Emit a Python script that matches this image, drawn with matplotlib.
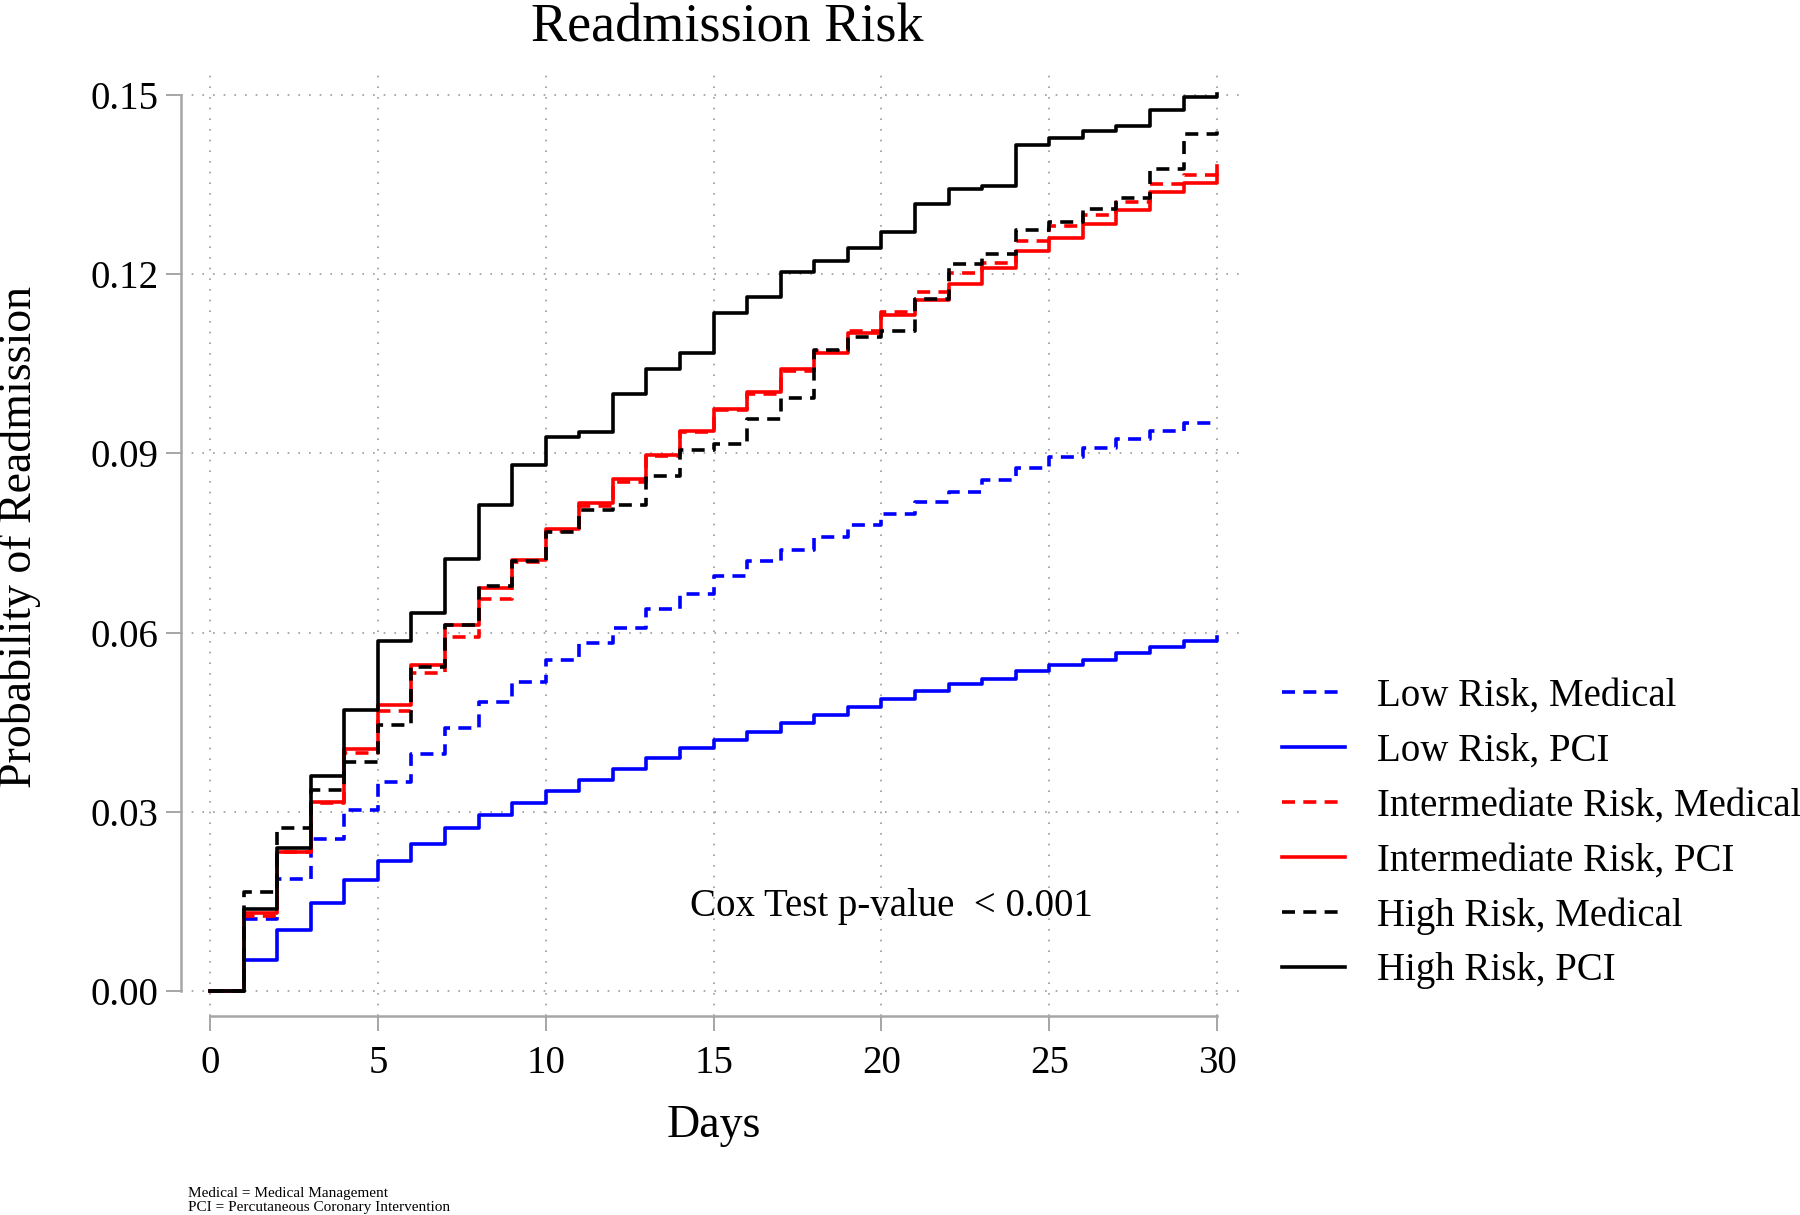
import matplotlib
matplotlib.use("Agg")
import matplotlib.pyplot as plt

plt.rcParams['font.family'] = ['Liberation Serif', 'DejaVu Serif']

# ------------------ Data (cumulative probability of readmission by day) ------------------
days = list(range(0, 31))

low_medical = [0, 0.0120, 0.0187, 0.0254, 0.0303, 0.0349, 0.0397, 0.0440, 0.0484, 0.0517,
               0.0554, 0.0582, 0.0608, 0.0640, 0.0665, 0.0695, 0.0720, 0.0738, 0.0760, 0.0780,
               0.0798, 0.0818, 0.0835, 0.0855, 0.0876, 0.0894, 0.0909, 0.0924, 0.0938, 0.0950,
               0.0953]

low_pci = [0, 0.0052, 0.0102, 0.0148, 0.0186, 0.0218, 0.0246, 0.0272, 0.0295, 0.0315,
           0.0335, 0.0353, 0.0372, 0.0390, 0.0406, 0.0420, 0.0434, 0.0448, 0.0462, 0.0476,
           0.0489, 0.0502, 0.0513, 0.0523, 0.0535, 0.0545, 0.0554, 0.0565, 0.0575, 0.0585,
           0.0593]

int_medical = [0, 0.0125, 0.0232, 0.0315, 0.0398, 0.0469, 0.0532, 0.0593, 0.0656, 0.0718,
               0.0770, 0.0812, 0.0852, 0.0895, 0.0935, 0.0972, 0.1000, 0.1038, 0.1072, 0.1104,
               0.1136, 0.1170, 0.1202, 0.1218, 0.1255, 0.1281, 0.1299, 0.1320, 0.1351, 0.1366,
               0.1374]

int_pci = [0, 0.0130, 0.0233, 0.0317, 0.0405, 0.0479, 0.0546, 0.0613, 0.0674, 0.0721,
           0.0773, 0.0816, 0.0857, 0.0897, 0.0938, 0.0974, 0.1003, 0.1041, 0.1068, 0.1101,
           0.1132, 0.1157, 0.1184, 0.1211, 0.1238, 0.1260, 0.1284, 0.1308, 0.1337, 0.1352,
           0.1381]

high_medical = [0, 0.0165, 0.0272, 0.0337, 0.0383, 0.0445, 0.0542, 0.0613, 0.0678, 0.0719,
                0.0769, 0.0805, 0.0814, 0.0862, 0.0906, 0.0915, 0.0958, 0.0992, 0.1073, 0.1095,
                0.1104, 0.1158, 0.1217, 0.1233, 0.1273, 0.1288, 0.1309, 0.1327, 0.1376, 0.1435,
                0.1441]

high_pci = [0, 0.0137, 0.0240, 0.0359, 0.0470, 0.0586, 0.0633, 0.0723, 0.0813, 0.0880,
            0.0928, 0.0936, 0.0999, 0.1041, 0.1068, 0.1135, 0.1161, 0.1204, 0.1222, 0.1244,
            0.1270, 0.1317, 0.1342, 0.1347, 0.1416, 0.1428, 0.1439, 0.1448, 0.1474, 0.1497,
            0.1502]

labels = ["Low Risk, Medical", "Low Risk, PCI",
          "Intermediate Risk, Medical", "Intermediate Risk, PCI",
          "High Risk, Medical", "High Risk, PCI"]
series = [low_medical, low_pci, int_medical, int_pci, high_medical, high_pci]
colors = ["#0000ff", "#0000ff", "#ff0000", "#ff0000", "#000000", "#000000"]
dashed = [True, False, True, False, True, False]

x_ticks = [0, 5, 10, 15, 20, 25, 30]
y_ticks = [0.00, 0.03, 0.06, 0.09, 0.12, 0.15]

# ------------------ Plotting ------------------
fig = plt.figure(figsize=(18, 12.15), dpi=100)
ax = fig.add_axes([181 / 1800, 1 - 1016 / 1215, (1240 - 181) / 1800, (1016 - 71) / 1215])

for vals, lab, col, dash in zip(series, labels, colors, dashed):
    line, = ax.step(days, vals, where='post', color=col, lw=2.6, label=lab)
    if dash:
        line.set_dashes((3.6, 2.3))

ax.set_xlim(-0.864, 30.68)
ax.set_ylim(-0.0042, 0.1540)

ax.set_xticks(x_ticks)
ax.set_yticks(y_ticks)
ax.set_yticklabels([f"{v:.2f}" for v in y_ticks])

grey = "#a6a6a6"
for side in ["top", "right"]:
    ax.spines[side].set_visible(False)
ax.spines["left"].set_bounds(0, 0.15)
ax.spines["bottom"].set_bounds(0, 30)
for side in ["left", "bottom"]:
    ax.spines[side].set_color(grey)
    ax.spines[side].set_linewidth(1.8)

ax.tick_params(axis='both', colors=grey, length=11, width=1.4, labelsize=28,
               labelcolor="black", pad=5)
ax.tick_params(axis='x', pad=10)

ax.grid(True, color="#9a9a9a", linestyle=(0, (1, 5.4)), linewidth=1.2)
ax.set_axisbelow(True)

ax.text(20.29, 0.0141, "Cox Test p-value  < 0.001", fontsize=28, ha='center', va='center')

# Titles and labels
fig.text(727 / 1800, 1 - 42 / 1215, "Readmission Risk", fontsize=39, ha='center', va='baseline')
fig.text(714 / 1800, 1 - 1137 / 1215, "Days", fontsize=33, ha='center', va='baseline')
fig.text(20 / 1800, 1 - 537 / 1215, "Probability of Readmission", fontsize=33,
         rotation=90, ha='center', va='center')

fig.text(188 / 1800, 1 - 1193 / 1215, "Medical = Medical Management", fontsize=11, va='center')
fig.text(188 / 1800, 1 - 1208 / 1215, "PCI = Percutaneous Coronary Intervention", fontsize=11,
         va='center')

fig.legend(loc='center left', bbox_to_anchor=(1282 / 1800, 1 - 833.5 / 1215), frameon=False,
           fontsize=28, handlelength=1.63, handletextpad=0.82, labelspacing=0.46, borderpad=0,
           borderaxespad=0)

fig.savefig("out.png", dpi=100)
